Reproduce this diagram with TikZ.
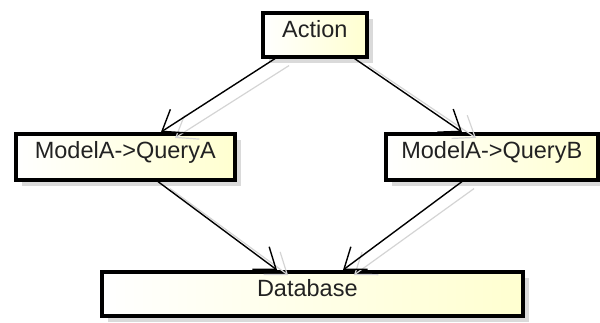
\documentclass[tikz,border=0pt]{standalone}
\usepackage{fontspec}
\setmainfont{Liberation Sans}
\usetikzlibrary{arrows.meta,positioning}
\definecolor{boxyellow}{RGB}{255,255,208}
\definecolor{shadowgray}{RGB}{218,218,218}
\definecolor{edgeshadow}{RGB}{212,212,212}
\definecolor{labelgray}{RGB}{34,34,34}
\tikzset{
  classbox/.style={draw=black, line width=3.6pt, left color=white, right color=boxyellow,
    shading angle=90, inner sep=0pt, anchor=north west, align=center,
    text height=24.5pt, font=\fontsize{23.5}{28}\selectfont, text=labelgray},
  boxshadow/.style={fill=shadowgray, draw=none},
  dep/.style={line width=1.4pt, black, -{Straight Barb[length=19pt,width=28pt,line width=1.4pt]}},
  depshadow/.style={line width=1.2pt, edgeshadow, -{Straight Barb[length=19pt,width=28pt,line width=1.2pt]}}
}
\begin{document}
\begin{tikzpicture}[x=1pt,y=-1pt]
\useasboundingbox (0,0) rectangle (600,323);
% drop shadows of the boxes
\fill[boxshadow] (269,19) rectangle (373,63);
\fill[boxshadow] (22,140) rectangle (241,186);
\fill[boxshadow] (392,140) rectangle (604,186);
\fill[boxshadow] (108,278) rectangle (529,322);
% class boxes
\node[classbox, minimum width=104pt, text depth=19.5pt] (act) at (261,11) {Action};
\node[classbox, minimum width=219pt, text depth=21.5pt] (qa) at (14,132) {ModelA->QueryA};
\node[classbox, minimum width=212pt, text depth=21.5pt] (qb) at (384,132) {ModelA->QueryB};
\node[classbox, minimum width=421pt, text depth=19.5pt] (db) at (100,270) {Database\hspace{10pt}};
% shadows of the dependencies
\draw[depshadow] ([shift={(28,7)}]act.south west) -- ([shift={(161,6)}]qa.north west);
\draw[depshadow] ([shift={(0,7)}]act.south east) -- ([shift={(92,6)}]qb.north west);
\draw[depshadow] ([shift={(156,7)}]qa.south west) -- ([shift={(188,5)}]db.north west);
\draw[depshadow] ([shift={(90,7)}]qb.south west) -- ([shift={(254,5)}]db.north west);
% dependencies
\draw[dep] ([xshift=14pt]act.south west) -- ([xshift=147pt]qa.north west);
\draw[dep] ([xshift=-14pt]act.south east) -- ([xshift=78pt]qb.north west);
\draw[dep] ([xshift=144pt]qa.south west) -- ([xshift=177pt]db.north west);
\draw[dep] ([xshift=78pt]qb.south west) -- ([xshift=243pt]db.north west);
\end{tikzpicture}
\end{document}
